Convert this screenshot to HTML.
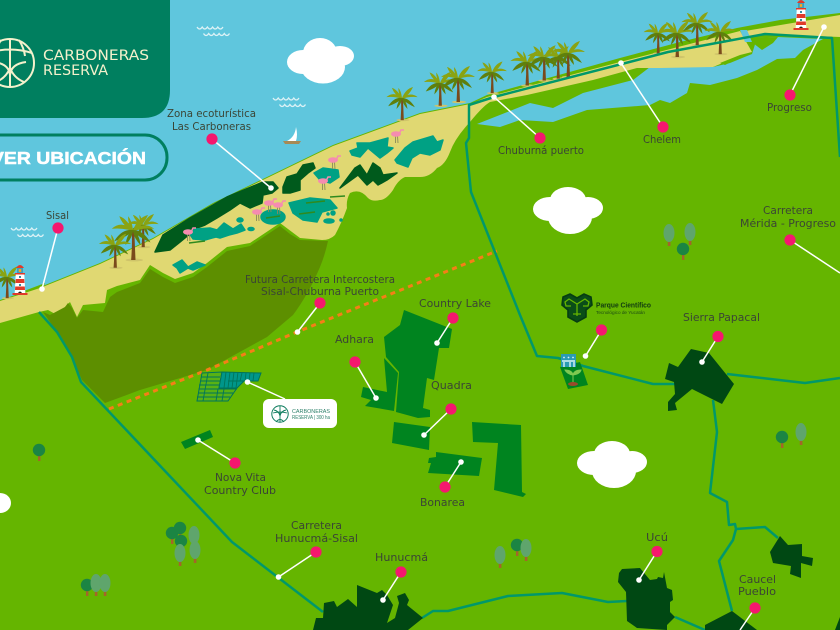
<!DOCTYPE html>
<html><head><meta charset="utf-8"><style>
html,body{margin:0;padding:0;background:#65b500}
svg{display:block}
.l{font-family:"DejaVu Sans","Liberation Sans",sans-serif;font-size:10.5px;fill:#3b4535}
.b{font-family:"Liberation Sans",sans-serif}
.d{font-family:"DejaVu Sans","Liberation Sans",sans-serif}
</style></head><body>
<svg width="840" height="630" viewBox="0 0 840 630" xmlns="http://www.w3.org/2000/svg">
<defs>
<g id="palm">
<ellipse cx="1" cy="24" rx="7" ry="1.2" fill="#cfc46a"/>
<path d="M-1 0 Q-0.5 12 -1.500 24 L2 24 Q1.500 12 1 0Z" fill="#7a4a1c"/>
<path d="M0 0 Q-9 -8 -17 -1 Q-8 -2 0 1Z M0 0 Q-6 -10 -11 -11 Q-8 -3 0 1Z M0 0 Q-1 -8 -4 -11 Q-4 -4 0 1Z M0 0 Q4 -10 12 -12 Q8 -3 0 1Z M0 0 Q9 -7 17 -1 Q8 -2 0 1Z" fill="#8aa312"/>
<path d="M0 0 Q-9 -1 -15 9 Q-6 6 0 1Z M0 0 Q-5 3 -6 12 Q-1 7 0 1Z M0 0 Q8 0 14 10 Q5 6 0 1Z M0 0 Q5 3 6 12 Q1 7 0 1Z" fill="#5f800c"/>
</g>
<g id="fl"><path d="M-0.5 4 L-0.5 11 M1.5 4 L2 11" stroke="#8a8a5a" stroke-width="0.9"/><ellipse cx="0" cy="2" rx="5" ry="2.800" fill="#f58cb0"/><path d="M3 2 L5 -2 L8 -2" stroke="#f58cb0" stroke-width="1.500" fill="none"/></g>
<g id="cl"><ellipse cx="17" cy="22" rx="17" ry="12"/><ellipse cx="35" cy="13" rx="18" ry="13"/><ellipse cx="55" cy="21" rx="15" ry="11"/><ellipse cx="37" cy="30" rx="22" ry="17"/></g>
<g id="lh">
<path d="M-4 -27 Q0 -33 4 -27Z" fill="#e03a2a"/>
<rect x="-3" y="-27" width="6" height="5" fill="#3aa0c0"/><rect x="-1.2" y="-26" width="2.4" height="3" fill="#f5a623"/>
<rect x="-5" y="-22" width="10" height="1.6" fill="#e03a2a"/>
<path d="M-4.3 -20.5 L4.3 -20.5 L5.3 -2 L-5.3 -2Z" fill="#fff"/>
<path d="M-4.2 -16 L4.2 -16 L4.5 -12 L-4.5 -12Z M-4.8 -8.5 L4.8 -8.5 L5 -5 L-5 -5Z" fill="#e03a2a"/>
<rect x="-1" y="-19" width="2" height="2" fill="#3a8ca0"/><rect x="-1" y="-11" width="2" height="2" fill="#3a8ca0"/>
<path d="M-2 -2 Q0 -5 2 -2Z" fill="#222"/>
<rect x="-7.5" y="-2" width="15" height="2" fill="#e03a2a"/>
</g>
<g id="wv" fill="none" stroke="#dcf2f6" stroke-width="1.200">
<path d="M0 0 q2.600 4 5.200 0 q2.600 4 5.200 0 q2.600 4 5.200 0 q2.600 4 5.200 0 q2.600 4 5.200 0"/>
<path d="M6.500 6.500 q2.600 4 5.200 0 q2.600 4 5.200 0 q2.600 4 5.200 0 q2.600 4 5.200 0 q2.600 4 5.200 0"/>
</g>
<g id="td"><rect x="-1" y="4" width="2.4" height="7" fill="#a5642a"/><circle r="6.2" fill="#1b8543"/></g>
<g id="tl"><rect x="-1.2" y="7" width="2.6" height="6" fill="#a5642a"/><ellipse rx="5.5" ry="9" fill="#5fa56c"/></g>
</defs>

<rect width="840" height="630" fill="#5fc6dd"/>
<!-- land -->
<polygon fill="#65b500" points="0,300 40,287 100,263 153,238 213,203 267,177 333,145 420,113 470,103 487,95 620,58 680,42 737,28 780,20 840,13 840,630 0,630"/>
<polygon fill="#65b500" points="24,291 45,283 40,295"/>
<!-- lagoon -->
<polygon fill="#5fc6dd" points="477,124 530,103 553,108 583,93 633,80 650,67 713,67 730,63 752,54 757,38 778,37 823,39 803,50 795,58 777,59 757,70 737,78 710,85 690,83 687,93 670,103 660,100 650,105 587,110 553,122 520,120 500,127"/>
<polygon fill="#65b500" points="752,38 778,37 773,43 762,50 753,43"/>
<!-- sand -->
<path fill="#e0d872" d="M0 301 L40 288 L100 264 L153 239 L213 204 L267 178 L333 146 L420 114 L470 104 L487 97 L620 62 L740 31 L752 52 L730 60 L713 67 L660 68 L637 68 L593 80 L527 95 L490 102 Q483 106 470 122 Q455 138 450 152 Q445 165 437 168 Q430 177 420 177 L405 177 Q398 180 393 190 Q386 200 380 200 Q372 202 368 198 Q360 188 350 193 Q346 200 347 208 Q342 222 335 235 Q330 240 322 240 L300 238 L280 223 L250 243 L227 247 L207 263 L193 273 L175 279 L163 273 L150 265 L140 280 L117 286 L107 290 L105 303 L83 305 L77 317 L70 302 L57 315 L48 310 L39 312 L0 323Z"/>
<polygon fill="#e0d872" points="745,31 840,15 840,37 763,34 748,38"/>
<polygon fill="#5fc6dd" points="740,30 747,30 752,42 745,42"/>
<polygon fill="#65b500" points="720,63 740,55 752,52 735,60 725,65"/>
<!-- olive -->
<path fill="#5d8f00" d="M43 312 L50 315 L65 307 L68 303 L72 308 L77 318 L83 310 L103 312 L110 297 L117 292 L140 283 L150 269 L163 277 L175 283 L193 277 L207 267 L227 251 L250 246 L280 226 L290 234 L300 240 L328 241 Q325 255 320 267 Q308 295 293 315 L267 337 L207 370 L140 390 L105 403 L82 380 L72 357 L57 332Z"/>

<!-- coastal shapes -->
<polygon fill="#005a1c" stroke="#005a1c" stroke-width="1.500" stroke-linejoin="round" points="155,252 163,235 190,218 227,197 263,182 273,182 278,188 272,193 263,195 262,203 250,208 240,203 230,210 217,218 205,225 197,228 180,242 170,250"/>
<g fill="#00a184" stroke="#00a184" stroke-width="1.500" stroke-linejoin="round">
<polygon points="189,233 195,229 210,228 217,230 224,223 233,229 241,224 245,230 237,233 229,235 220,238 216,237 212,238 205,240 193,239"/>
<ellipse cx="240" cy="220" rx="3" ry="2"/><ellipse cx="251" cy="229" rx="3" ry="1.500"/>
<polygon points="173,265 182,260 188,267 197,262 205,265 193,270 188,268 180,273 177,268"/>
<ellipse cx="273" cy="217" rx="12" ry="7"/>
<polygon points="289,203 310,198 330,200 337,208 322,212 317,222 303,220 293,213"/>
<ellipse cx="329" cy="221" rx="5" ry="2"/><circle cx="333" cy="213" r="2"/><circle cx="328" cy="214" r="1"/><circle cx="341" cy="220" r="1"/>
<polygon points="314,173 323,168 338,170 339,177 330,183 320,180"/>
<polygon points="350,151 358,148 357,143 370,143 388,138 387,147 393,148 387,153 380,158 368,148 360,157 352,155"/>
<polygon points="395,160 405,148 413,142 433,136 437,142 443,140 440,150 430,155 420,153 412,158 408,167 397,163"/>
</g>
<polygon fill="#005a1c" stroke="#005a1c" stroke-width="1.500" stroke-linejoin="round" points="283,187 287,177 297,174 303,165 313,163 315,168 308,173 300,180 300,190 290,193 283,193"/>
<polygon fill="#005a1c" stroke="#005a1c" stroke-width="1.500" stroke-linejoin="round" points="340,188 355,168 360,165 367,175 373,163 380,168 383,175 397,173 387,180 378,185 373,180 367,185 358,175"/>
<path d="M306 203 L325 201 M299 214 L315 212 M266 218 L280 216 M189 243 L205 241 M330 197 L345 196" stroke="#2f8a1e" stroke-width="1.600" fill="none"/>

<use href="#fl" x="188" y="230"/><use href="#fl" x="257" y="210"/><use href="#fl" x="269" y="201"/><use href="#fl" x="278" y="203"/><use href="#fl" x="333" y="158"/><use href="#fl" x="323" y="179"/><use href="#fl" x="396" y="132"/>

<!-- palms -->
<use href="#palm" transform="translate(402,98) scale(.92)"/>
<use href="#palm" transform="translate(143,225) scale(.92)"/>
<use href="#palm" transform="translate(133,230) scale(1.25)"/>
<use href="#palm" transform="translate(115,245) scale(.95)"/>
<use href="#palm" transform="translate(7,277) scale(.88)"/>
<use href="#palm" transform="translate(440,83) scale(.95)"/>
<use href="#palm" transform="translate(458,78) scale(1)"/>
<use href="#palm" transform="translate(492,72) scale(.88)"/>
<use href="#palm" transform="translate(527,62) scale(.98)"/>
<use href="#palm" transform="translate(544,57) scale(.98)"/>
<use href="#palm" transform="translate(558,57) scale(.9)"/>
<use href="#palm" transform="translate(568,53) scale(1)"/>
<use href="#palm" transform="translate(658,33) scale(.85)"/>
<use href="#palm" transform="translate(677,33) scale(1)"/>
<use href="#palm" transform="translate(697,23) scale(.92)"/>
<use href="#palm" transform="translate(720,32) scale(.92)"/>

<!-- lighthouses -->
<use href="#lh" x="20" y="295"/>
<use href="#lh" x="801" y="30"/>

<!-- roads -->
<g fill="none" stroke="#00986a" stroke-width="2.500" stroke-linejoin="round">
<polyline points="39,312 57,332 72,357 81,382 232,542 323,612"/>
<polyline points="422,618 433,611 448,611 508,596 562,593 608,602 627,601"/>
<polyline points="675,617 705,630"/>
<polyline points="840,157 835,83 832,38 765,34 668,52 494,97 469,105 469,138 466,143 471,192 520,315 537,356 558,358 583,366 653,384 675,384"/>
<polyline points="727,374 805,383 840,378"/>
<polyline points="713,400 717,432 710,493 727,502 729,525 735,524 736,529 733,540 719,561 732,611"/>
<polyline points="736,529 765,527 778,538"/>
</g>

<!-- orange dashed -->
<polyline points="109,409 207,370 297,332 497,251" fill="none" stroke="#f57e17" stroke-width="3" stroke-dasharray="5 4.500"/>

<!-- developments -->
<g fill="#00841f">
<polygon points="404,310 452,329 449,348 439,348 434,380 427,378 423,408 430,410 430,417 418,418 396,412 399,372 386,357 384,337 400,325"/>
<polygon points="384,358 398,373 394,411 365,406 371,400 361,397 363,387 387,392"/>
<polygon points="394,422 430,427 429,450 392,443"/>
<polygon points="436,452 482,458 479,476 428,473 431,463 428,463 429,458 436,457"/>
<polygon points="472,422 521,425 522,492 526,494 523,497 494,490 498,443 473,442"/>
<polygon points="181,442 210,430 213,437 185,449"/>
</g>
<g fill="#004813">
<polygon points="691,349 709,353 734,384 722,404 692,389 675,403 677,410 668,411 668,402 675,394 674,382 665,379 669,363 678,367"/>
<polygon points="622,569 640,568 650,580 657,579 658,577 663,578 664,572 667,588 672,590 673,600 670,602 670,612 675,617 667,625 667,630 637,628 627,621 626,592 618,582 619,573"/>
<polygon points="705,625 732,611 757,630 705,630"/>
<polygon points="780,536 788,545 802,544 802,556 813,558 812,566 801,563 801,578 790,574 791,566 773,563 770,552"/>
<polygon points="840,617 835,630 840,630"/>
<polygon points="313,630 316,618 323,618 324,603 334,601 337,607 348,599 357,607 357,585 377,593 382,590 387,595 393,605 387,623 395,618 399,603 397,596 405,593 409,600 407,605 423,618 408,630"/>
</g>

<!-- grid development -->
<polygon points="202,373 222,372 219,388 237,388 228,401 197,401" fill="#58b214" stroke="#00745a" stroke-width="1"/>
<polygon points="222,372 261,373 258,381 244,381 237,388 219,388" fill="#00968a" stroke="#00745a" stroke-width="1"/>
<g stroke="#00745a" stroke-width="0.900" fill="none">
<path d="M201 377 L220 377 M200 381 L220 381 M199 385 L220 385 M198.500 389 L237 389 M198 393 L233 393 M197 397 L230 397 M208 373 L203 401 M218 389 L216 401 M224 389 L222 401"/>
<path d="M226 372 L224 388 M230 372 L228 388 M234 372 L232 388 M238 372 L236 388 M242 373 L240 381 M246 373 L245 381 M250 373 L249 381 M254 373 L253 381 M228 381 L244 381"/>
</g>

<!-- white card -->
<rect x="263" y="399" width="74" height="29" rx="6" fill="#fff"/>
<circle cx="280" cy="414" r="8.200" fill="none" stroke="#0f7d5f" stroke-width="1"/>
<path d="M280 406 V422 M280 416 Q279 411 274 410 M280 416 Q281 411 286 410 M273 413 Q280 411 287 413 M276 422 Q280 417 284 422" fill="none" stroke="#0f7d5f" stroke-width="0.900"/>
<text class="b" x="292" y="413" font-size="5.200" fill="#2b7f68" textLength="38" lengthAdjust="spacingAndGlyphs">CARBONERAS</text>
<text class="b" x="292" y="419" font-size="5.200" fill="#2b7f68" textLength="38" lengthAdjust="spacingAndGlyphs">RESERVA | 300 ha</text>

<!-- Parque Cientifico -->
<g fill="none" stroke="#063d12" stroke-width="1.600">
<path d="M563 297 L570 294 L577 298 L584 294 L591 297 L592 305 L586 310 L586 317 L577 322 L568 317 L568 310 L562 305Z" fill="#0a4d18"/>
<path d="M577 304 L569 299 L565 302 L566 306 L571 306 M577 304 L585 299 L589 302 L588 306 L583 306 M577 304 V316 M573 314 H581" stroke="#65b500" stroke-width="1.300"/>
</g>
<text class="b" x="596" y="307.500" font-size="7" font-weight="bold" fill="#103a10" textLength="55" lengthAdjust="spacingAndGlyphs">Parque Científico</text>
<text class="b" x="596" y="314" font-size="4.500" fill="#1d4a14" textLength="49" lengthAdjust="spacingAndGlyphs">Tecnológico de Yucatán</text>
<polygon points="560,367 580,362 588,385 568,389" fill="#00841f"/>
<rect x="561" y="354" width="15" height="13" fill="#2a9bb3"/>
<path d="M562 361 H575 M564 367 V362 M570 367 V362 M574 367 V362" stroke="#d8f3f5" stroke-width="1.400" fill="none"/>
<circle cx="564" cy="357.500" r=".9" fill="#d8f3f5"/><circle cx="568.500" cy="357.500" r=".9" fill="#d8f3f5"/><circle cx="573" cy="357.500" r=".9" fill="#d8f3f5"/>
<path d="M573 382 L573 374 M573 375 Q567 374 565 370 Q572 370 573 375 M573 375 Q580 374 581 370 Q574 370 573 375" stroke="#7ec850" fill="#7ec850" stroke-width="1"/>
<ellipse cx="573" cy="384" rx="5" ry="2" fill="#9a4a2a"/>

<!-- clouds -->
<g fill="#fff">
<ellipse cx="303" cy="62" rx="16" ry="12"/><ellipse cx="320" cy="53" rx="17" ry="15"/><ellipse cx="340" cy="56" rx="14" ry="10"/><ellipse cx="323" cy="67" rx="22" ry="16.500"/>
<use href="#cl" x="533" y="187"/>
<use href="#cl" x="577" y="441"/>
<ellipse cx="0" cy="503" rx="11" ry="10"/>
</g>

<!-- waves -->
<use href="#wv" x="197" y="27"/><use href="#wv" x="273" y="98"/><use href="#wv" x="11" y="228"/>

<!-- boat -->
<path d="M287 141 Q295 137 296 127 Q298 135 296 141Z" fill="#fff"/>
<path d="M283 141 L301 141 L299 144 L285 144Z" fill="#a68a55"/>

<!-- trees -->
<use href="#tl" x="669" y="233"/><use href="#tl" x="690" y="232"/><use href="#td" x="683" y="249"/>
<use href="#td" x="39" y="450"/>
<use href="#td" x="172" y="533"/><use href="#td" x="180" y="528"/><use href="#td" x="181" y="541"/>
<use href="#tl" x="194" y="535"/><use href="#tl" x="195" y="550"/><use href="#tl" x="180" y="553"/>
<use href="#td" x="87" y="585"/><use href="#tl" x="96" y="583"/><use href="#tl" x="105" y="583"/>
<use href="#tl" x="500" y="555"/><use href="#td" x="517" y="545"/><use href="#tl" x="526" y="548"/>
<use href="#td" x="782" y="437"/><use href="#tl" x="801" y="432"/>

<!-- header panel -->
<path d="M0 0 H170 V90 Q170 118 142 118 H0Z" fill="#007f5f"/>
<g fill="none" stroke="#f4f1cc" stroke-width="2">
<circle cx="10" cy="63" r="24"/>
<path d="M10 39 V87 M10 75 Q9 64 -6 62 M10 75 Q11 64 26 62 M-12 53 Q10 46 32 53 M1 40 Q-4 48 -5 56 M19 40 Q24 48 25 56 M-4 82 Q6 78 10 68 M24 82 Q14 78 10 68"/>
</g>
<text class="d" x="43" y="60" font-size="14" fill="#f4f1cc" textLength="106" lengthAdjust="spacingAndGlyphs">CARBONERAS</text>
<text class="d" x="43" y="75" font-size="14" fill="#f4f1cc" textLength="65" lengthAdjust="spacingAndGlyphs">RESERVA</text>
<!-- button -->
<rect x="-30" y="135" width="197" height="45" rx="22" fill="none" stroke="#007f5f" stroke-width="3"/>
<text class="b" x="146" y="164" text-anchor="end" font-size="17.500" font-weight="bold" fill="#fff" stroke="#fff" stroke-width=".5" textLength="155" lengthAdjust="spacingAndGlyphs">VER UBICACIÓN</text>

<!-- pins -->
<g stroke="#fff" stroke-width="1.500">
<line x1="212" y1="139" x2="271" y2="188"/><line x1="58" y1="228" x2="42" y2="289"/><line x1="320" y1="303" x2="297.500" y2="332"/>
<line x1="540" y1="138" x2="494" y2="97"/><line x1="663" y1="127" x2="621" y2="63"/><line x1="790" y1="95" x2="824" y2="27"/>
<line x1="790" y1="240" x2="840" y2="273"/><line x1="355" y1="362" x2="376" y2="398"/><line x1="453" y1="318" x2="437" y2="343"/>
<line x1="451" y1="409" x2="424" y2="435"/><line x1="445" y1="487" x2="461" y2="462"/><line x1="235" y1="463" x2="198" y2="440"/>
<line x1="247.500" y1="382" x2="285" y2="399"/><line x1="316" y1="552" x2="278.500" y2="577"/><line x1="401" y1="572" x2="383" y2="600"/>
<line x1="601.500" y1="330" x2="585.500" y2="356"/><line x1="718" y1="336.500" x2="702" y2="362"/><line x1="657" y1="551.500" x2="639" y2="580"/><line x1="755" y1="608" x2="740" y2="630"/>
</g>
<g fill="#fff">
<circle cx="271" cy="188" r="2.800"/><circle cx="42" cy="289" r="2.800"/><circle cx="297.500" cy="332" r="2.800"/><circle cx="494" cy="97" r="2.800"/><circle cx="621" cy="63" r="2.800"/><circle cx="824" cy="27" r="2.800"/>
<circle cx="376" cy="398" r="2.800"/><circle cx="437" cy="343" r="2.800"/><circle cx="424" cy="435" r="2.800"/><circle cx="461" cy="462" r="2.800"/><circle cx="198" cy="440" r="2.800"/>
<circle cx="247.500" cy="382" r="2.800"/><circle cx="278.500" cy="577" r="2.800"/><circle cx="383" cy="600" r="2.800"/><circle cx="585.500" cy="356" r="2.800"/><circle cx="702" cy="362" r="2.800"/><circle cx="639" cy="580" r="2.800"/>
</g>
<g fill="#f5176e">
<circle cx="212" cy="139" r="5.600"/><circle cx="58" cy="228" r="5.600"/><circle cx="320" cy="303" r="5.600"/><circle cx="540" cy="138" r="5.600"/><circle cx="663" cy="127" r="5.600"/><circle cx="790" cy="95" r="5.600"/>
<circle cx="790" cy="240" r="5.600"/><circle cx="355" cy="362" r="5.600"/><circle cx="453" cy="318" r="5.600"/><circle cx="451" cy="409" r="5.600"/><circle cx="445" cy="487" r="5.600"/><circle cx="235" cy="463" r="5.600"/>
<circle cx="316" cy="552" r="5.600"/><circle cx="401" cy="572" r="5.600"/><circle cx="601.500" cy="330" r="5.600"/><circle cx="718" cy="336.500" r="5.600"/><circle cx="657" cy="551.500" r="5.600"/><circle cx="755" cy="608" r="5.600"/>
</g>

<!-- labels -->
<g>
<text class="l" x="167" y="117" textLength="89" lengthAdjust="spacingAndGlyphs">Zona ecoturística</text>
<text class="l" x="172" y="130" textLength="79" lengthAdjust="spacingAndGlyphs">Las Carboneras</text>
<text class="l" x="46" y="219" textLength="23" lengthAdjust="spacingAndGlyphs">Sisal</text>
<text class="l" x="245" y="283" textLength="150" lengthAdjust="spacingAndGlyphs">Futura Carretera Intercostera</text>
<text class="l" x="261" y="295" textLength="118" lengthAdjust="spacingAndGlyphs">Sisal-Chuburna Puerto</text>
<text class="l" x="498" y="154" textLength="86" lengthAdjust="spacingAndGlyphs">Chuburná puerto</text>
<text class="l" x="643" y="143" textLength="38" lengthAdjust="spacingAndGlyphs">Chelem</text>
<text class="l" x="767" y="111" textLength="45" lengthAdjust="spacingAndGlyphs">Progreso</text>
<text class="l" x="763" y="214" textLength="50" lengthAdjust="spacingAndGlyphs">Carretera</text>
<text class="l" x="740" y="227" textLength="96" lengthAdjust="spacingAndGlyphs">Mérida - Progreso</text>
<text class="l" x="419" y="307" textLength="72" lengthAdjust="spacingAndGlyphs">Country Lake</text>
<text class="l" x="335" y="343" textLength="39" lengthAdjust="spacingAndGlyphs">Adhara</text>
<text class="l" x="431" y="389" textLength="41" lengthAdjust="spacingAndGlyphs">Quadra</text>
<text class="l" x="683" y="321" textLength="77" lengthAdjust="spacingAndGlyphs">Sierra Papacal</text>
<text class="l" x="420" y="506" textLength="45" lengthAdjust="spacingAndGlyphs">Bonarea</text>
<text class="l" x="215" y="481" textLength="51" lengthAdjust="spacingAndGlyphs">Nova Vita</text>
<text class="l" x="204" y="494" textLength="72" lengthAdjust="spacingAndGlyphs">Country Club</text>
<text class="l" x="291" y="529" textLength="51" lengthAdjust="spacingAndGlyphs">Carretera</text>
<text class="l" x="275" y="542" textLength="83" lengthAdjust="spacingAndGlyphs">Hunucmá-Sisal</text>
<text class="l" x="375" y="561" textLength="53" lengthAdjust="spacingAndGlyphs">Hunucmá</text>
<text class="l" x="646" y="541" textLength="22" lengthAdjust="spacingAndGlyphs">Ucú</text>
<text class="l" x="739" y="583" textLength="37" lengthAdjust="spacingAndGlyphs">Caucel</text>
<text class="l" x="738" y="595" textLength="38" lengthAdjust="spacingAndGlyphs">Pueblo</text>
</g>
</svg>
</body></html>
